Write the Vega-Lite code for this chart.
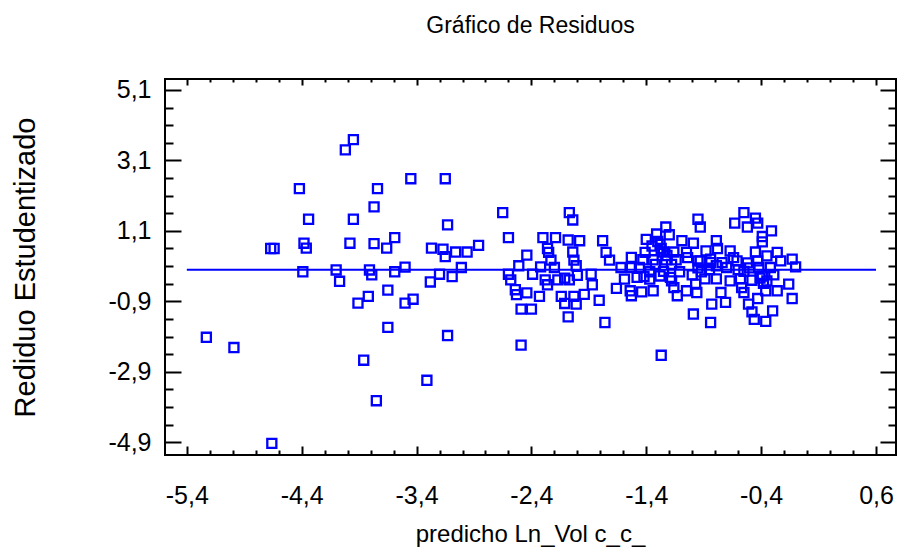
{
  "$schema": "https://vega.github.io/schema/vega-lite/v6.json",
  "width": 731,
  "height": 376,
  "autosize": {"type": "none"},
  "padding": {"left": 165, "top": 79, "right": 3, "bottom": 99},
  "background": "white",
  "config": {
    "view": {"stroke": "black", "strokeWidth": 2},
    "axis": {"domain": false, "grid": false, "tickColor": "black", "tickWidth": 2, "labelFont": "Liberation Sans Narrow, Arial Narrow, Liberation Sans, sans-serif", "labelFontSize": 25, "labelColor": "black", "titleColor": "black"},
    "title": {"font": "Liberation Sans Narrow, Arial Narrow, Liberation Sans, sans-serif", "fontSize": 23, "fontWeight": "normal", "color": "black"}
  },
  "title": {"text": "Gráfico de Residuos", "anchor": "middle", "offset": 40},
  "datasets": {
    "pts": [
      {"x": -3.95, "y": 3.69}, {"x": -4.02, "y": 3.40}, {"x": -4.42, "y": 2.30}, {"x": -3.74, "y": 2.30},
      {"x": -3.45, "y": 2.58}, {"x": -3.15, "y": 2.58}, {"x": -3.77, "y": 1.78}, {"x": -4.34, "y": 1.43},
      {"x": -3.95, "y": 1.43}, {"x": -3.13, "y": 1.27}, {"x": -4.67, "y": 0.60}, {"x": -4.64, "y": 0.60},
      {"x": -4.38, "y": 0.75}, {"x": -4.36, "y": 0.61}, {"x": -3.98, "y": 0.75}, {"x": -3.77, "y": 0.74},
      {"x": -3.66, "y": 0.61}, {"x": -3.59, "y": 0.91}, {"x": -3.27, "y": 0.61}, {"x": -3.17, "y": 0.58},
      {"x": -3.15, "y": 0.37}, {"x": -3.06, "y": 0.50}, {"x": -4.39, "y": -0.06}, {"x": -4.10, "y": -0.01},
      {"x": -3.81, "y": -0.01}, {"x": -3.79, "y": -0.15}, {"x": -3.59, "y": -0.06}, {"x": -3.50, "y": 0.07},
      {"x": -4.07, "y": -0.33}, {"x": -3.28, "y": -0.35}, {"x": -3.20, "y": -0.13}, {"x": -3.09, "y": -0.20},
      {"x": -3.65, "y": -0.58}, {"x": -3.91, "y": -0.95}, {"x": -3.82, "y": -0.76}, {"x": -3.50, "y": -0.95},
      {"x": -3.43, "y": -0.84}, {"x": -3.65, "y": -1.64}, {"x": -5.23, "y": -1.92}, {"x": -4.99, "y": -2.21},
      {"x": -3.13, "y": -1.87}, {"x": -3.86, "y": -2.57}, {"x": -3.31, "y": -3.14}, {"x": -3.75, "y": -3.72},
      {"x": -4.66, "y": -4.93}, {"x": -2.96, "y": 0.50}, {"x": -2.86, "y": 0.69}, {"x": -3.01, "y": 0.06},
      {"x": -2.65, "y": 1.62}, {"x": -2.60, "y": 0.91}, {"x": -2.07, "y": 1.62}, {"x": -2.04, "y": 1.41},
      {"x": -2.30, "y": 0.91}, {"x": -2.19, "y": 0.91}, {"x": -2.08, "y": 0.84}, {"x": -1.98, "y": 0.82},
      {"x": -1.78, "y": 0.82}, {"x": -2.26, "y": 0.60}, {"x": -2.25, "y": 0.49}, {"x": -2.44, "y": 0.41},
      {"x": -2.04, "y": 0.50}, {"x": -1.75, "y": 0.49}, {"x": -1.72, "y": 0.27}, {"x": -2.23, "y": 0.27},
      {"x": -2.03, "y": 0.27}, {"x": -2.51, "y": 0.11}, {"x": -2.32, "y": 0.08}, {"x": -2.20, "y": 0.06},
      {"x": -2.01, "y": 0.11}, {"x": -2.60, "y": -0.13}, {"x": -2.58, "y": -0.29}, {"x": -2.39, "y": -0.13},
      {"x": -2.28, "y": -0.29}, {"x": -2.26, "y": -0.43}, {"x": -2.17, "y": -0.29}, {"x": -2.11, "y": -0.24},
      {"x": -2.07, "y": -0.29}, {"x": -2.00, "y": -0.16}, {"x": -1.88, "y": -0.13}, {"x": -1.87, "y": -0.43},
      {"x": -2.54, "y": -0.57}, {"x": -2.53, "y": -0.71}, {"x": -2.44, "y": -0.66}, {"x": -2.33, "y": -0.76},
      {"x": -2.14, "y": -0.76}, {"x": -2.03, "y": -0.76}, {"x": -1.94, "y": -0.70}, {"x": -2.11, "y": -0.96},
      {"x": -2.01, "y": -0.98}, {"x": -1.81, "y": -0.87}, {"x": -2.49, "y": -1.12}, {"x": -2.40, "y": -1.12},
      {"x": -2.08, "y": -1.34}, {"x": -1.76, "y": -1.50}, {"x": -2.49, "y": -2.14}, {"x": -1.27, "y": -2.43},
      {"x": -1.62, "y": 0.06}, {"x": -1.59, "y": -0.27}, {"x": -1.66, "y": -0.53}, {"x": -1.54, "y": -0.60},
      {"x": -1.53, "y": -0.74}, {"x": -1.44, "y": -0.63}, {"x": -1.34, "y": -0.60}, {"x": -1.48, "y": -0.22},
      {"x": -1.53, "y": 0.35}, {"x": -1.43, "y": 0.28}, {"x": -1.46, "y": 0.06}, {"x": -1.40, "y": 0.86},
      {"x": -1.31, "y": 1.01}, {"x": -1.23, "y": 1.21}, {"x": -1.20, "y": 0.99}, {"x": -1.35, "y": 0.67},
      {"x": -1.25, "y": 0.50}, {"x": -1.16, "y": 0.50}, {"x": -1.09, "y": 0.82}, {"x": -1.34, "y": 0.28},
      {"x": -1.23, "y": 0.28}, {"x": -1.14, "y": 0.28}, {"x": -1.05, "y": 0.49}, {"x": -0.99, "y": 0.75},
      {"x": -0.95, "y": 1.43}, {"x": -1.28, "y": -0.18}, {"x": -1.19, "y": -0.22}, {"x": -1.11, "y": -0.06},
      {"x": -1.37, "y": -0.27}, {"x": -1.16, "y": -0.51}, {"x": -1.13, "y": -0.74}, {"x": -1.05, "y": -0.60},
      {"x": -0.97, "y": -0.41}, {"x": -0.99, "y": -1.26}, {"x": -0.95, "y": 0.25}, {"x": -0.93, "y": 1.21},
      {"x": -0.55, "y": 1.62}, {"x": -0.45, "y": 1.46}, {"x": -0.43, "y": 1.32}, {"x": -0.63, "y": 1.32},
      {"x": -0.52, "y": 1.21}, {"x": -0.31, "y": 1.10}, {"x": -0.39, "y": 0.94}, {"x": -0.39, "y": 0.79},
      {"x": -0.79, "y": 0.82}, {"x": -0.78, "y": 0.60}, {"x": -0.88, "y": 0.53}, {"x": -0.67, "y": 0.53},
      {"x": -0.45, "y": 0.50}, {"x": -0.35, "y": 0.39}, {"x": -0.26, "y": 0.49}, {"x": -0.23, "y": 0.25},
      {"x": -0.13, "y": 0.30}, {"x": -0.10, "y": 0.08}, {"x": -0.52, "y": 0.19}, {"x": -0.93, "y": 0.25},
      {"x": -0.84, "y": 0.30}, {"x": -0.61, "y": 0.25}, {"x": -0.43, "y": 0.25}, {"x": -0.79, "y": 0.11},
      {"x": -0.70, "y": 0.06}, {"x": -0.92, "y": -0.06}, {"x": -0.89, "y": -0.26}, {"x": -0.79, "y": -0.26},
      {"x": -0.67, "y": -0.32}, {"x": -0.58, "y": -0.26}, {"x": -0.48, "y": -0.30}, {"x": -0.39, "y": -0.18},
      {"x": -0.29, "y": -0.15}, {"x": -0.35, "y": -0.32}, {"x": -0.16, "y": -0.41}, {"x": -0.26, "y": -0.60},
      {"x": -0.36, "y": -0.60}, {"x": -0.55, "y": -0.65}, {"x": -0.75, "y": -0.65}, {"x": -0.96, "y": -0.65},
      {"x": -1.18, "y": -0.32}, {"x": -0.13, "y": -0.82}, {"x": -0.43, "y": -0.82}, {"x": -0.51, "y": -0.98},
      {"x": -0.83, "y": -0.98}, {"x": -0.71, "y": -0.93}, {"x": -0.30, "y": -1.17}, {"x": -0.48, "y": -1.20},
      {"x": -0.46, "y": -1.41}, {"x": -0.36, "y": -1.47}, {"x": -0.84, "y": -1.50}, {"x": -1.04, "y": 0.34},
      {"x": -0.84, "y": 0.20}, {"x": -0.64, "y": 0.34}, {"x": -0.74, "y": 0.20}, {"x": -0.42, "y": 0.06},
      {"x": -0.32, "y": 0.06}, {"x": -0.41, "y": -0.24}, {"x": -0.38, "y": -0.39}, {"x": -0.57, "y": -0.51},
      {"x": -1.53, "y": 0.06}, {"x": -1.41, "y": 0.49}, {"x": -1.28, "y": 0.72}, {"x": -1.37, "y": -0.06},
      {"x": -1.42, "y": -0.20}, {"x": -1.30, "y": 0.80}, {"x": -1.27, "y": 0.60}, {"x": -1.22, "y": 0.40},
      {"x": -1.32, "y": 0.15}, {"x": -1.18, "y": 0.15}, {"x": -1.25, "y": -0.05}, {"x": -0.95, "y": 0.05},
      {"x": -1.00, "y": -0.15}, {"x": -0.85, "y": 0.00}, {"x": -0.60, "y": 0.00}, {"x": -0.55, "y": -0.05},
      {"x": -0.50, "y": 0.05}
    ],
    "zero": [{"x": -5.4, "x2": 0.6, "y": 0}]
  },
  "resolve": {"axis": {"x": "independent", "y": "independent"}},
  "layer": [
    {
      "data": {"name": "pts"},
      "mark": {"type": "point", "shape": "square", "filled": false, "color": "#0000FF", "strokeWidth": 2.3, "size": 82, "opacity": 1},
      "encoding": {
        "x": {"field": "x", "type": "quantitative", "scale": {"domain": [-5.59, 0.774], "nice": false, "zero": false},
          "axis": {"orient": "bottom", "values": [-5.4, -4.4, -3.4, -2.4, -1.4, -0.4, 0.6], "tickSize": -9, "labelPadding": 37,
            "labelExpr": "(datum.value < 0 ? '-' : '') + replace(format(abs(datum.value), '.1f'), '.', ',')",
            "title": "predicho Ln_Vol c_c_", "titleFont": "Liberation Sans Narrow, Arial Narrow, Liberation Sans, sans-serif", "titleFontSize": 24, "titleFontWeight": "normal", "titleX": 365, "titleY": 86, "titleBaseline": "alphabetic"}},
        "y": {"field": "y", "type": "quantitative", "scale": {"domain": [-5.26, 5.41], "nice": false, "zero": false},
          "axis": {"orient": "left", "values": [-4.9, -2.9, -0.9, 1.1, 3.1, 5.1], "tickSize": -16, "labelPadding": 30,
            "labelExpr": "(datum.value < 0 ? '-' : '') + replace(format(abs(datum.value), '.1f'), '.', ',')",
            "title": "Rediduo Estudentizado", "titleFont": "Liberation Sans, Arial, sans-serif", "titleFontSize": 29, "titleFontWeight": "normal", "titleX": -131, "titleY": 188, "titleAngle": -90, "titleBaseline": "alphabetic", "titleAlign": "center"}}
      }
    },
    {
      "data": {"name": "zero"},
      "mark": {"type": "rule", "color": "#0000FF", "strokeWidth": 2},
      "encoding": {
        "x": {"field": "x", "type": "quantitative", "axis": {"orient": "bottom", "values": [-5.2, -5.0, -4.8, -4.6, -4.2, -4.0, -3.8, -3.6, -3.2, -3.0, -2.8, -2.6, -2.2, -2.0, -1.8, -1.6, -1.2, -1.0, -0.8, -0.6, -0.2, 0.0, 0.2, 0.4], "tickSize": -5, "labels": false, "title": null}},
        "x2": {"field": "x2"},
        "y": {"field": "y", "type": "quantitative", "axis": {"orient": "left", "values": [-4.4, -3.9, -3.4, -2.4, -1.9, -1.4, -0.4, 0.1, 0.6, 1.6, 2.1, 2.6, 3.6, 4.1, 4.6], "tickSize": -8, "labels": false, "title": null}}
      }
    },
    {
      "data": {"name": "zero"},
      "mark": {"type": "point", "opacity": 0},
      "encoding": {
        "x": {"field": "x", "type": "quantitative", "axis": {"orient": "top", "values": [-5.4, -4.4, -3.4, -2.4, -1.4, -0.4, 0.6], "tickSize": -6, "labels": false, "title": null}},
        "y": {"field": "y", "type": "quantitative", "axis": {"orient": "right", "values": [-4.9, -2.9, -0.9, 1.1, 3.1, 5.1], "tickSize": -16, "labels": false, "title": null}}
      }
    },
    {
      "data": {"name": "zero"},
      "mark": {"type": "point", "opacity": 0},
      "encoding": {
        "x": {"field": "x2", "type": "quantitative", "axis": {"orient": "top", "values": [-5.2, -5.0, -4.8, -4.6, -4.2, -4.0, -3.8, -3.6, -3.2, -3.0, -2.8, -2.6, -2.2, -2.0, -1.8, -1.6, -1.2, -1.0, -0.8, -0.6, -0.2, 0.0, 0.2, 0.4], "tickSize": -3, "labels": false, "title": null}},
        "y": {"field": "y", "type": "quantitative", "axis": {"orient": "right", "values": [-4.4, -3.9, -3.4, -2.4, -1.9, -1.4, -0.4, 0.1, 0.6, 1.6, 2.1, 2.6, 3.6, 4.1, 4.6], "tickSize": -8, "labels": false, "title": null}}
      }
    }
  ]
}
